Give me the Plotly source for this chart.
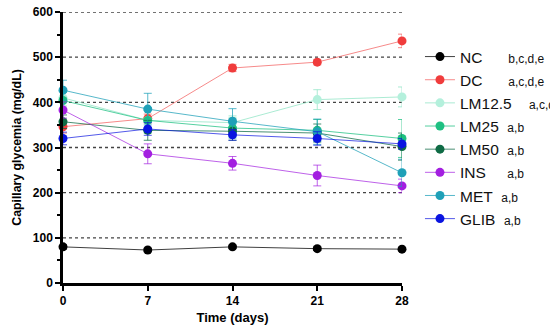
import plotly.graph_objects as go

days = [0, 7, 14, 21, 28]

groups = ["NC", "DC", "LM12.5", "LM25", "LM50", "INS", "MET", "GLIB"]
letters = ["b,c,d,e", "a,c,d,e", "a,c,d", "a,b", "a,b", "a,b", "a,b", "a,b"]
pads = [6, 6, 4, 2, 2, 5, 2, 2]

nc = [80, 73, 80, 76, 75]
dc = [346, 364, 476, 489, 536]
lm125 = [410, 360, 355, 406, 412]
lm25 = [404, 360, 343, 338, 320]
lm50 = [357, 338, 336, 332, 302]
ins = [383, 286, 265, 238, 215]
met = [427, 385, 358, 335, 244]
glib = [320, 341, 328, 320, 308]

nc_err = [5, 4, 4, 4, 4]
dc_err = [14, 10, 8, 6, 15]
lm125_err = [18, 22, 15, 22, 22]
lm25_err = [18, 28, 22, 24, 42]
lm50_err = [15, 22, 20, 20, 30]
ins_err = [18, 22, 15, 23, 15]
met_err = [22, 35, 28, 28, 30]
glib_err = [14, 14, 12, 15, 12]

series = [nc, dc, lm125, lm25, lm50, ins, met, glib]
errors = [nc_err, dc_err, lm125_err, lm25_err, lm50_err, ins_err, met_err, glib_err]

marker_colors = ["#000000", "#f03c3c", "#b4f0dc", "#1ec082", "#0f6b45",
                 "#a31fe0", "#1fa0b8", "#0a14e0"]
line_colors = ["rgba(0,0,0,0.75)", "rgba(240,60,60,0.6)", "rgba(150,230,200,0.8)",
               "rgba(30,192,130,0.75)", "rgba(15,107,69,0.75)", "rgba(163,31,224,0.7)",
               "rgba(31,160,184,0.75)", "rgba(10,20,224,0.7)"]

fig = go.Figure()
for g, lt, p, y, e, mc, lc in zip(groups, letters, pads, series, errors, marker_colors, line_colors):
    fig.add_trace(go.Scatter(
        x=days, y=y,
        mode="lines+markers",
        name=g + "&nbsp;" * p + "<span style='font-size:12px'>" + lt + "</span>",
        line=dict(color=lc, width=1),
        marker=dict(color=mc, size=9),
        error_y=dict(type="data", array=e, visible=True, color=lc, thickness=1, width=4),
        cliponaxis=False,
    ))

grid_vals = [100, 200, 300, 400, 500, 600]
for gv in grid_vals:
    fig.add_shape(type="line", xref="paper", yref="y", x0=0, x1=1, y0=gv, y1=gv,
                  line=dict(color="#444444", width=1.3, dash="dot"), layer="below")

font_family = "Liberation Sans, Arial, sans-serif"
legend_family = "Liberation Sans Narrow, Liberation Sans, Arial, sans-serif"

fig.update_layout(
    width=550, height=330,
    margin=dict(l=63, r=148, t=12, b=47),
    plot_bgcolor="white", paper_bgcolor="white",
    font=dict(family=font_family, color="#000000"),
    showlegend=True,
    legend=dict(
        xref="container", yref="paper",
        x=0.7636, y=0.8967, xanchor="left", yanchor="top",
        maxheight=300,
        font=dict(size=15.5, family=legend_family, color="#111111", weight="normal"),
        bgcolor="rgba(0,0,0,0)",
        itemwidth=30,
    ),
    xaxis=dict(
        range=[0, 28], tickvals=days, ticktext=[str(d) for d in days],
        automargin=False,
        showline=True, linecolor="black", linewidth=2.5,
        ticks="outside", ticklen=5, tickwidth=2, tickcolor="black",
        showgrid=False, zeroline=False,
        tickfont=dict(size=12, family=font_family, color="black", weight="bold"),
        title=dict(text="<b>Time (days)</b>", font=dict(size=13, color="black"), standoff=6),
    ),
    yaxis=dict(
        range=[0, 600], tickvals=[0, 100, 200, 300, 400, 500, 600],
        automargin=False,
        showline=True, linecolor="black", linewidth=2.5,
        ticks="outside", ticklen=5, tickwidth=2, tickcolor="black",
        minor=dict(tickvals=[50, 150, 250, 350, 450, 550], ticks="outside", ticklen=3,
                   tickwidth=1.5, tickcolor="black"),
        showgrid=False, zeroline=False,
        tickfont=dict(size=12, family=font_family, color="black", weight="bold"),
        title=dict(text="<b>Capillary glycemia (mg/dL)</b>", font=dict(size=12.3, color="black"), standoff=9),
    ),
)

fig.write_html("out.html", config={"displayModeBar": False},
               post_script="document.body.style.margin='0';")
